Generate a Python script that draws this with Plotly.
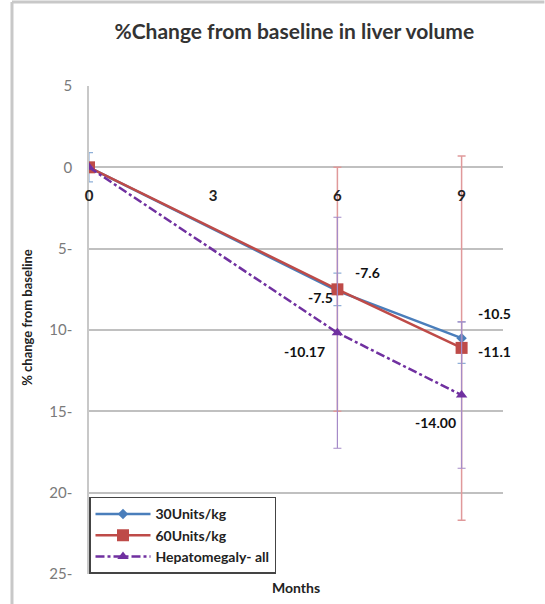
import plotly.graph_objects as go

months = [0, 6, 9]
s30 = [0, -7.6, -10.5]
s30_plus = [0.9, 1.1, 1.0]
s30_minus = [0.9, 0.9, 1.55]
s30_text = ["", "-7.6", "-10.5"]

s60 = [0, -7.5, -11.1]
s60_plus = [0, 7.5, 11.8]
s60_minus = [0, 7.5, 10.6]
s60_text = ["", "-7.5", "-11.1"]

hep = [0, -10.17, -14.0]
hep_plus = [0, 7.1, 4.5]
hep_minus = [0, 7.1, 4.5]
hep_text = ["", "-10.17", "-14.00"]

x_ticks = [0, 3, 6, 9]
y_ticks = [5, 0, -5, -10, -15, -20, -25]
y_ticktext = ["5", "0", "5-", "10-", "15-", "20-", "25-"]

FONT = "Lato"
lblfont = dict(family=FONT, size=14, color="#111111")

fig = go.Figure()
fig.add_trace(go.Scatter(
    x=months, y=s30, name="<b>30Units/kg</b>", mode="lines+markers",
    line=dict(color="#4A7EBB", width=2.5),
    marker=dict(symbol="diamond", size=8, color="#4A7EBB"),
    error_y=dict(type="data", array=s30_plus, arrayminus=s30_minus,
                 color="#8FB0D8", thickness=1.2, width=4),
))
fig.add_trace(go.Scatter(
    x=months, y=s60, name="<b>60Units/kg</b>", mode="lines+markers",
    line=dict(color="#BE4B48", width=2.5),
    marker=dict(symbol="square", size=12, color="#BE4B48"),
    error_y=dict(type="data", array=s60_plus, arrayminus=s60_minus,
                 color="#E0999A", thickness=1.5, width=4),
))
fig.add_trace(go.Scatter(
    x=months, y=hep, name="<b>Hepatomegaly- all</b>", mode="lines+markers",
    line=dict(color="#7030A0", width=2.5, dash="dashdot"),
    marker=dict(symbol="triangle-up", size=10, color="#7030A0"),
    error_y=dict(type="data", array=hep_plus, arrayminus=hep_minus,
                 color="#A58BC8", thickness=1.2, width=4),
))

# data labels placed at the data points (from the arrays), with pixel offsets
label_offsets = {
    "s30": [(0, 0), (30, 18), (33, 25)],
    "s60": [(0, 0), (-17, -8), (33, -4)],
    "hep": [(0, 0), (-33, -19), (-26, -27)],
}
annotations = []
for key, ys, texts in (("s30", s30, s30_text), ("s60", s60, s60_text), ("hep", hep, hep_text)):
    for i, (xv, yv, t) in enumerate(zip(months, ys, texts)):
        if not t:
            continue
        dx, dy = label_offsets[key][i]
        annotations.append(dict(x=xv, y=yv, xref="x", yref="y", text="<b>%s</b>" % t,
                                showarrow=False, xshift=dx, yshift=dy,
                                xanchor="center", yanchor="middle", font=lblfont))

ymin, ymax = -25, 5
zero_frac = (0 - ymin) / (ymax - ymin)

annotations += [
    dict(text="<b>Months</b>", xref="paper", yref="paper", x=0.5, y=-0.028,
         xanchor="center", yanchor="middle", showarrow=False,
         font=dict(family=FONT, size=14, color="#222222")),
    dict(text="<b>% change from baseline</b>", xref="paper", yref="paper",
         x=-0.15, y=0.527, xanchor="center", yanchor="middle", textangle=-90,
         showarrow=False, font=dict(family=FONT, size=13, color="#222222")),
]

fig.update_layout(
    width=545, height=604,
    margin=dict(l=89, r=42, t=86, b=30),
    paper_bgcolor="white", plot_bgcolor="white",
    font=dict(family=FONT, color="#333333"),
    title=dict(text="<b>%Change from baseline in liver volume</b>",
               x=0.54, xanchor="center", y=0.947, yanchor="middle",
               font=dict(family=FONT, size=21, color="#333333")),
    xaxis=dict(range=[0, 10], tickvals=x_ticks, showgrid=False, zeroline=False,
               showline=False, anchor="free", position=zero_frac, side="bottom",
               ticks="", ticklabelstandoff=18,
               tickfont=dict(family=FONT, size=15, color="#222222", weight="bold")),
    yaxis=dict(range=[ymin, ymax], tickvals=y_ticks, ticktext=y_ticktext,
               showgrid=True, gridcolor="#C0C0C0", gridwidth=1.5,
               zeroline=False, showline=True, linecolor="#C8C8C8", linewidth=1.5,
               ticks="", ticklabelstandoff=12,
               tickfont=dict(family=FONT, size=15, color="#7A7A7A")),
    showlegend=True,
    legend=dict(x=0.0, y=0.158, xanchor="left", yanchor="top",
                bgcolor="white", bordercolor="#444444", borderwidth=1.5,
                font=dict(family=FONT, size=14, color="#222222"),
                tracegroupgap=0, itemwidth=55),
    annotations=annotations,
    shapes=[
        dict(type="line", xref="paper", yref="paper", x0=-0.186, x1=1.1,
             y0=1.172, y1=1.172, line=dict(color="#C8C8C8", width=3)),
        dict(type="line", xref="paper", yref="paper", x0=-0.186, x1=-0.186,
             y0=-0.07, y1=1.172, line=dict(color="#C8C8C8", width=3)),
    ],
)

fig.write_html("out.html", config={"displayModeBar": False},
               post_script="document.body.style.margin='0';")
